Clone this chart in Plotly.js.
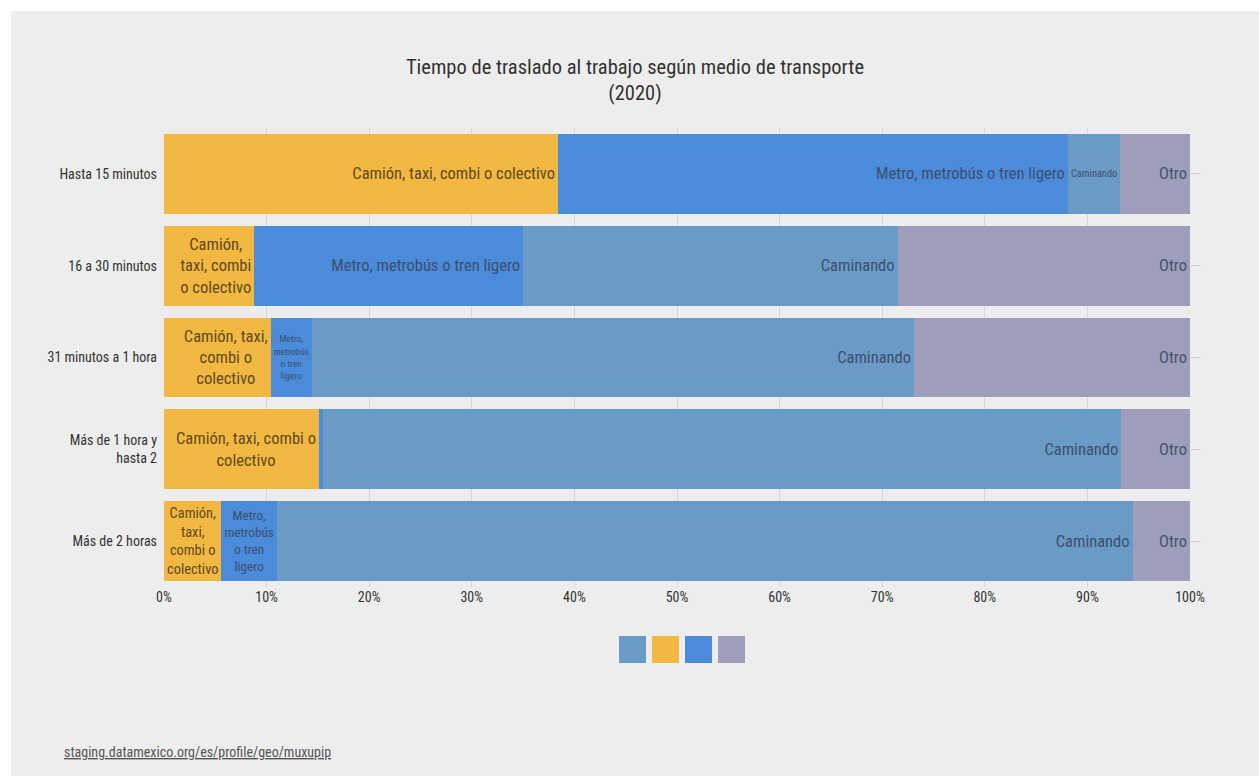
<!DOCTYPE html>
<html>
<head>
<meta charset="utf-8">
<script src="https://cdn.plot.ly/plotly-3.0.1.min.js"></script>
<style>
html, body { margin: 0; padding: 0; background: #ffffff; width: 1259px; height: 776px; overflow: hidden; }
#chart { position: absolute; left: 11px; top: 11px; width: 1248px; height: 765px; }
</style>
</head>
<body>
<div id="chart"></div>
<script>
// ---- Data ----
const categories = ["Hasta 15 minutos", "16 a 30 minutos", "31 minutos a 1 hora", "Más de 1 hora y<br>hasta 2", "Más de 2 horas"];

const seriesNames = ["Camión, taxi, combi o colectivo", "Metro, metrobús o tren ligero", "Caminando", "Otro"];

const camion    = [38.4, 8.8, 10.4, 15.1, 5.6];
const metro     = [49.7, 26.2, 4.0, 0.4, 5.4];
const caminando = [5.1, 36.5, 58.7, 77.8, 83.4];
const otro      = [6.8, 28.5, 26.9, 6.7, 5.6];

const camionLabels = ["Camión, taxi, combi o colectivo", "Camión,<br>taxi, combi<br>o colectivo", "Camión, taxi,<br>combi o<br>colectivo", "Camión, taxi, combi o<br>colectivo", "Camión,<br>taxi,<br>combi o<br>colectivo"];
const metroLabels = ["Metro, metrobús o tren ligero", "Metro, metrobús o tren ligero", "Metro,<br>metrobús<br>o tren<br>ligero", "", "Metro,<br>metrobús<br>o tren<br>ligero"];
const caminandoLabels = ["Caminando", "Caminando", "Caminando", "Caminando", "Caminando"];
const otroLabels = ["Otro", "Otro", "Otro", "Otro", "Otro"];

const xTickVals = [0, 10, 20, 30, 40, 50, 60, 70, 80, 90, 100];
const xTickText = ["0%", "10%", "20%", "30%", "40%", "50%", "60%", "70%", "80%", "90%", "100%"];

const sourceText = "staging.datamexico.org/es/profile/geo/muxupip";
const titleText = "Tiempo de traslado al trabajo según medio de transporte<br>(2020)";

// ---- Style ----
const FONT = '"Liberation Sans Narrow", "Roboto Condensed", "DejaVu Sans Condensed", "Open Sans", sans-serif';
const colors = {
  camion: "#F3B841",
  metro: "#4A8BDA",
  caminando: "#6A9BC6",
  otro: "#9C9EBB"
};

function barTrace(name, values, labels, color, textColor) {
  return {
    type: "bar",
    orientation: "h",
    name: name,
    y: categories,
    x: values,
    text: labels,
    textposition: "inside",
    insidetextanchor: "end",
    constraintext: "inside",
    textangle: 0,
    textfont: { family: FONT, size: 16.5, color: textColor },
    marker: { color: color, line: { width: 0 } },
    hovertemplate: "%{y}<br>" + name + ": %{x:.1f}%<extra></extra>",
    showlegend: false
  };
}

const traces = [
  barTrace(seriesNames[0], camion, camionLabels, colors.camion, "#5E4B22"),
  barTrace(seriesNames[1], metro, metroLabels, colors.metro, "#3E4F6E"),
  barTrace(seriesNames[2], caminando, caminandoLabels, colors.caminando, "#3E4F6E"),
  barTrace(seriesNames[3], otro, otroLabels, colors.otro, "#4A5368"),
  {
    type: "scatter",
    mode: "markers",
    y: categories,
    x: categories.map(() => null),
    yaxis: "y2",
    marker: { opacity: 0 },
    hoverinfo: "skip",
    showlegend: false
  }
];

// legend swatches (order: Caminando, Camión, Metro, Otro)
const legendColors = [colors.caminando, colors.camion, colors.metro, colors.otro];
const swatchX = [0.4435, 0.4756, 0.5078, 0.5400];
const swatchW = 0.0263;
const shapes = legendColors.map((c, i) => ({
  type: "rect",
  xref: "paper", yref: "paper",
  x0: swatchX[i], x1: swatchX[i] + swatchW,
  y0: -0.1656, y1: -0.1068,
  fillcolor: c,
  line: { width: 0 }
}));

const layout = {
  width: 1248,
  height: 765,
  paper_bgcolor: "#EDEDED",
  plot_bgcolor: "#EDEDED",
  margin: { l: 153, r: 69, t: 117, b: 189 },
  barmode: "stack",
  bargap: 0.13,
  font: { family: FONT, color: "#333333", size: 14 },
  title: {
    text: titleText,
    font: { family: FONT, size: 20.5, color: "#333333" },
    x: 0.5, xref: "container", xanchor: "center",
    y: 0.918, yref: "container", yanchor: "top"
  },
  xaxis: {
    range: [0, 100],
    tickmode: "array",
    tickvals: xTickVals,
    ticktext: xTickText,
    showgrid: true,
    gridcolor: "#D6D6D6",
    gridwidth: 1,
    zeroline: false,
    showline: false,
    ticks: "",
    tickfont: { family: FONT, size: 14, color: "#333333" },
    fixedrange: true
  },
  yaxis: {
    type: "category",
    categoryorder: "array",
    categoryarray: categories,
    autorange: "reversed",
    showgrid: false,
    zeroline: false,
    showline: false,
    ticks: "",
    ticklabelstandoff: 6,
    tickfont: { family: FONT, size: 14, color: "#333333" },
    fixedrange: true
  },
  yaxis2: {
    type: "category",
    overlaying: "y",
    matches: "y",
    side: "right",
    showgrid: false,
    zeroline: false,
    showline: false,
    ticks: "outside",
    ticklen: 10,
    tickcolor: "#D0D0D0",
    showticklabels: false,
    fixedrange: true
  },
  shapes: shapes,
  annotations: [{
    text: "<u>" + sourceText + "</u>",
    xref: "paper", yref: "paper",
    x: -0.0994, y: -0.3595,
    xanchor: "left", yanchor: "middle",
    showarrow: false,
    font: { family: FONT, size: 14, color: "#555555" }
  }],
  showlegend: false
};

Plotly.newPlot("chart", traces, layout, { displayModeBar: false, responsive: false });
</script>
</body>
</html>
